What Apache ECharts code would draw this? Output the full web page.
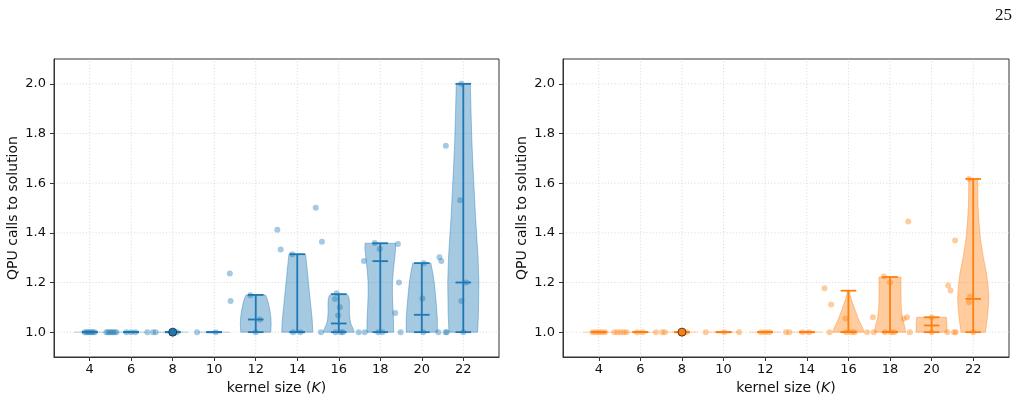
<!DOCTYPE html>
<html>
<head>
<meta charset="utf-8">
<script src="https://cdn.jsdelivr.net/npm/echarts@6/dist/echarts.min.js"></script>
<style>
html, body { margin: 0; padding: 0; background: #fff; }
#chart { width: 1021px; height: 402px; }
</style>
</head>
<body>
<div id="chart"></div>
<script>
// ticks
var ticksX = [4, 6, 8, 10, 12, 14, 16, 18, 20, 22];
var ticksY = [1.0, 1.2, 1.4, 1.6, 1.8, 2.0];

// violin stats per kernel size (min is 1.0 everywhere)
var kernels     = [4, 6, 8, 10, 12, 14, 16, 18, 20, 22];
var leftMin     = [1, 1, 1, 1, 1, 1, 1, 1, 1, 1];
var leftMax     = [1, 1, 1, 1, 1.15, 1.314, 1.153, 1.358, 1.278, 2.0];
var leftMedian  = [1, 1, 1, 1, 1.051, 1.0, 1.035, 1.286, 1.07, 1.2];
var rightMin    = [1, 1, 1, 1, 1, 1, 1, 1, 1, 1];
var rightMax    = [1, 1, 1, 1, 1, 1, 1.167, 1.222, 1.06, 1.617];
var rightMedian = [1, 1, 1, 1, 1, 1, 1.0, 1.0, 1.027, 1.134];

// violin outlines: [value, half width as share of the widest point]
var leftShape12 = [[1.0, 0.96], [1.03, 0.99], [1.06, 0.97], [1.09, 0.9], [1.12, 0.8], [1.14, 0.7], [1.15, 0.62]];
var leftShape14 = [[1.0, 1.0], [1.05, 0.96], [1.1, 0.88], [1.15, 0.8], [1.2, 0.72], [1.25, 0.64], [1.3, 0.56], [1.314, 0.53]];
var leftShape16 = [[1.0, 1.0], [1.015, 0.92], [1.03, 0.8], [1.05, 0.72], [1.08, 0.68], [1.11, 0.69], [1.135, 0.67], [1.148, 0.6], [1.153, 0.52]];
var leftShape18 = [[1.0, 0.86], [1.05, 0.85], [1.1, 0.81], [1.15, 0.78], [1.2, 0.78], [1.25, 0.84], [1.3, 0.93], [1.34, 0.99], [1.358, 0.97]];
var leftShape20 = [[1.0, 1.0], [1.05, 1.0], [1.1, 0.95], [1.15, 0.88], [1.2, 0.8], [1.24, 0.7], [1.265, 0.62], [1.278, 0.58]];
var leftShape22 = [[1.0, 0.92], [1.07, 0.97], [1.2, 1.0], [1.3, 0.95], [1.37, 0.88], [1.47, 0.78], [1.57, 0.7], [1.67, 0.62], [1.77, 0.55], [1.88, 0.5], [2.0, 0.45]];

var rightShape16 = [[1.0, 1.0], [1.015, 0.93], [1.03, 0.81], [1.045, 0.7], [1.063, 0.58], [1.09, 0.42], [1.117, 0.27], [1.14, 0.15], [1.16, 0.07], [1.167, 0.04]];
var rightShape18 = [[1.0, 1.0], [1.02, 0.95], [1.04, 0.87], [1.06, 0.79], [1.09, 0.73], [1.12, 0.71], [1.16, 0.7], [1.2, 0.7], [1.222, 0.7]];
var rightShape20 = [[1.0, 1.0], [1.03, 0.98], [1.05, 0.97], [1.06, 0.95]];
var rightShape22 = [[1.0, 0.78], [1.05, 0.89], [1.1, 0.97], [1.14, 1.0], [1.18, 0.96], [1.238, 0.85], [1.3, 0.65], [1.372, 0.47], [1.45, 0.36], [1.506, 0.31], [1.56, 0.29], [1.617, 0.29]];

// jittered raw runs: x positions of runs at 1.0, and the runs above 1.0
var leftOnes = [3.76, 3.84, 3.92, 4.0, 4.08, 4.16, 4.24, 4.8, 4.88, 4.96, 5.04, 5.12, 5.2, 5.29,
    5.77, 6.0, 6.2, 6.78, 7.05, 7.18, 8.2, 9.17, 10.07, 12.0, 13.8, 14.15, 15.14, 15.85, 16.1, 16.2,
    16.96, 17.25, 17.9, 18.1, 18.98, 20.07, 20.8, 21.15, 21.2, 22.0];
var leftUpper = [[10.75, 1.236], [10.79, 1.126], [11.74, 1.149], [12.2, 1.051], [13.04, 1.412], [13.2, 1.333],
    [13.76, 1.314], [14.89, 1.501], [15.19, 1.364], [15.9, 1.157], [15.82, 1.134], [16.05, 1.1], [15.97, 1.067],
    [17.73, 1.359], [17.97, 1.335], [17.21, 1.287], [18.85, 1.355], [18.9, 1.2], [18.72, 1.077], [20.03, 1.136],
    [20.1, 1.278], [20.85, 1.302], [20.94, 1.287], [21.16, 1.751], [21.85, 1.531], [21.91, 1.126], [21.9, 2.0],
    [22.14, 1.2]];
var rightOnes = [3.7, 3.85, 4.0, 4.15, 4.3, 4.75, 4.9, 5.05, 5.2, 5.33, 5.85, 6.1, 6.75, 7.05, 7.18, 8.21,
    9.14, 10.03, 10.75, 11.8, 12.0, 12.2, 13.0, 13.16, 13.8, 14.1, 15.09, 15.9, 16.15, 16.3, 16.9, 17.22,
    17.75, 18.05, 18.2, 18.95, 20.0, 20.76, 21.08, 21.16, 22.0];
var rightUpper = [[14.85, 1.177], [15.17, 1.111], [15.86, 1.055], [17.18, 1.06], [17.7, 1.224], [18.0, 1.2],
    [18.66, 1.054], [18.82, 1.06], [18.88, 1.446], [20.0, 1.06], [20.79, 1.188], [20.91, 1.168], [21.13, 1.369],
    [21.8, 1.617], [21.85, 1.144], [21.8, 1.12]];

// marked run
var highlight = [8, 1.0];

var leftShapes = {12: leftShape12, 14: leftShape14, 16: leftShape16, 18: leftShape18, 20: leftShape20, 22: leftShape22};
var rightShapes = {16: rightShape16, 18: rightShape18, 20: rightShape20, 22: rightShape22};

var BLUE = '#1f77b4', ORANGE = '#ff7f0e';
var FONT = 'DejaVu Sans';
var HALF = 0.75;   // half of violin width
var CAP = 0.375;   // half of cap line

function seg(api, x1, y1, x2, y2, style) {
    var a = api.coord([x1, y1]), b = api.coord([x2, y2]);
    return { type: 'line', shape: { x1: a[0], y1: a[1], x2: b[0], y2: b[1] }, style: style };
}

function bodyRender(shapes, color) {
    return function (params, api) {
        var k = api.value(0);
        var prof = shapes[k];
        if (!prof) {
            // all runs equal: flat outline only
            return seg(api, k - HALF, 1.0, k + HALF, 1.0, { stroke: color, opacity: 0.35, lineWidth: 1 });
        }
        var pts = [];
        for (var i = 0; i < prof.length; i++) pts.push(api.coord([k + prof[i][1] * HALF, prof[i][0]]));
        for (var j = prof.length - 1; j >= 0; j--) pts.push(api.coord([k - prof[j][1] * HALF, prof[j][0]]));
        return {
            type: 'polygon', shape: { points: pts },
            style: { fill: color, stroke: color, lineWidth: 1, opacity: 0.4 }
        };
    };
}

function linesRender(color) {
    return function (params, api) {
        var k = api.value(0), lo = api.value(1), hi = api.value(2), md = api.value(3);
        var st = { stroke: color, lineWidth: 1.8 };
        return {
            type: 'group', children: [
                seg(api, k, lo, k, hi, st),
                seg(api, k - CAP, lo, k + CAP, lo, st),
                seg(api, k - CAP, hi, k + CAP, hi, st),
                seg(api, k - CAP, md, k + CAP, md, st)
            ]
        };
    };
}

var gridStyle = { stroke: '#d4d4d4', lineWidth: 0.8, lineDash: [1.2, 2] };
function gridRender(params, api) {
    var t = api.value(0), v = api.value(1);
    if (t === 0) return seg(api, v, 0.9, v, 2.1, gridStyle);
    return seg(api, 2.28, v, 23.72, v, gridStyle);
}

function makeSeries(idx, color, shapes, mins, maxs, meds, ones, upper) {
    var gridData = ticksX.map(function (v) { return [0, v]; }).concat(ticksY.map(function (v) { return [1, v]; }));
    var stats = kernels.map(function (k, i) { return [k, mins[i], maxs[i], meds[i]]; });
    var pts = ones.map(function (x) { return [x, 1.0]; }).concat(upper);
    return [
        { type: 'custom', xAxisIndex: idx, yAxisIndex: idx, z: 0, silent: true, data: gridData, renderItem: gridRender },
        { type: 'custom', xAxisIndex: idx, yAxisIndex: idx, z: 1, data: kernels.map(function (k) { return [k]; }), renderItem: bodyRender(shapes, color) },
        { type: 'custom', xAxisIndex: idx, yAxisIndex: idx, z: 2, data: stats, renderItem: linesRender(color) },
        { type: 'scatter', xAxisIndex: idx, yAxisIndex: idx, z: 3, symbolSize: 6, data: pts,
          itemStyle: { color: color, opacity: 0.4 } },
        { type: 'scatter', xAxisIndex: idx, yAxisIndex: idx, z: 4, symbolSize: 8, data: [highlight],
          itemStyle: { color: color, borderColor: '#222', borderWidth: 0.8, opacity: 1 } }
    ];
}

function xAxisOpt(idx) {
    return {
        type: 'value', gridIndex: idx, min: 2.28, max: 23.72,
        name: 'kernel size ({i|K})', nameLocation: 'middle', nameGap: 24,
        nameTextStyle: { fontFamily: FONT, fontSize: 14, color: '#111',
            rich: { i: { fontFamily: FONT, fontSize: 14, fontStyle: 'italic', color: '#111' } } },
        axisLine: { show: true, lineStyle: { color: '#333', width: 1 } },
        axisTick: { show: true, length: 4, customValues: ticksX, lineStyle: { color: '#333' } },
        axisLabel: { customValues: ticksX, margin: 6, fontFamily: FONT, fontSize: 13, color: '#111' },
        splitLine: { show: false }
    };
}

function yAxisOpt(idx) {
    return {
        type: 'value', gridIndex: idx, min: 0.9, max: 2.1,
        name: 'QPU calls to solution', nameLocation: 'middle', nameGap: 34,
        nameTextStyle: { fontFamily: FONT, fontSize: 14, color: '#111' },
        axisLine: { show: true, lineStyle: { color: '#333', width: 1 } },
        axisTick: { show: true, length: 4, customValues: ticksY, lineStyle: { color: '#333' } },
        axisLabel: { customValues: ticksY, margin: 8, fontFamily: FONT, fontSize: 13, color: '#111',
            formatter: function (v) { return v.toFixed(1); } },
        splitLine: { show: false }
    };
}

var chart = echarts.init(document.getElementById('chart'));
var option = {
    animation: false,
    backgroundColor: '#fff',
    grid: [
        { left: 54, top: 59, width: 445, height: 298, show: true, borderColor: '#333', borderWidth: 1 },
        { left: 563, top: 59, width: 446, height: 298, show: true, borderColor: '#333', borderWidth: 1 }
    ],
    xAxis: [xAxisOpt(0), xAxisOpt(1)],
    yAxis: [yAxisOpt(0), yAxisOpt(1)],
    graphic: [
        { type: 'text', left: 995, top: 7, style: { text: '25', fontFamily: 'Liberation Serif', fontSize: 17, fill: '#111' } }
    ],
    series: makeSeries(0, BLUE, leftShapes, leftMin, leftMax, leftMedian, leftOnes, leftUpper)
        .concat(makeSeries(1, ORANGE, rightShapes, rightMin, rightMax, rightMedian, rightOnes, rightUpper))
};
chart.setOption(option);
window.onresize = chart.resize;
</script>
</body>
</html>
